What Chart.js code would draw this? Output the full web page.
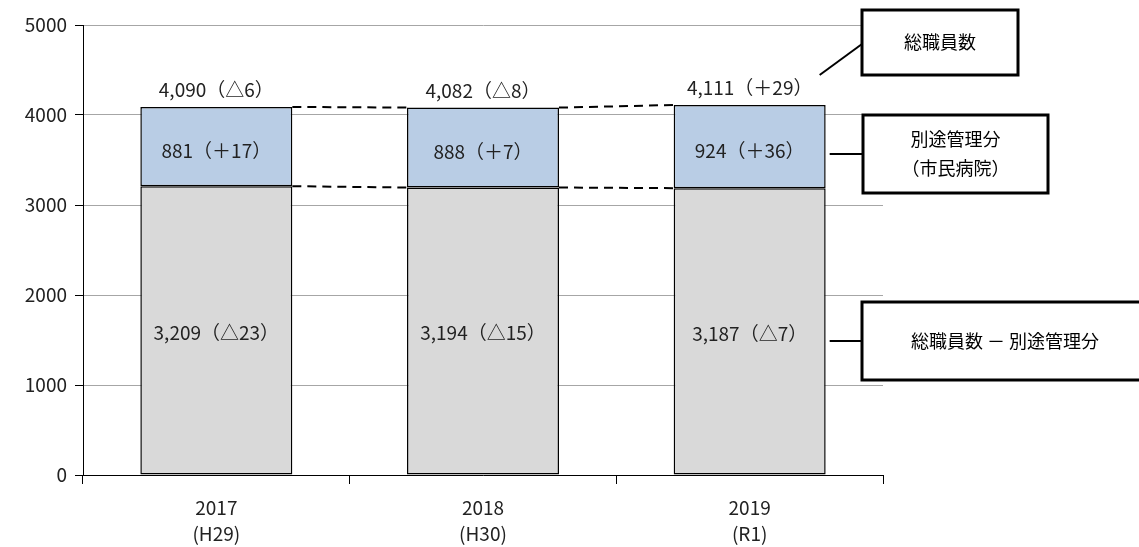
<!DOCTYPE html>
<html lang="ja">
<head>
<meta charset="UTF-8">
<title>総職員数の推移</title>
<script src="https://cdn.jsdelivr.net/npm/chart.js@4"></script>
<style>
  html, body { margin: 0; padding: 0; background: #fff; }
  #wrap { width: 1139px; height: 547px; }
</style>
</head>
<body>
<div id="wrap"><canvas id="chart"></canvas></div>
<script>
const categories = [['2017', '(H29)'], ['2018', '(H30)'], ['2019', '(R1)']];
const otherValues = [3209, 3194, 3187];
const hospitalValues = [881, 888, 924];
const otherLabels = ['3,209（△23）', '3,194（△15）', '3,187（△7）'];
const hospitalLabels = ['881（＋17）', '888（＋7）', '924（＋36）'];
const totalLabels = ['4,090（△6）', '4,082（△8）', '4,111（＋29）'];
const calloutTexts = [['総職員数'], ['別途管理分', '（市民病院）'], ['総職員数 － 別途管理分']];

const FONT = '"Noto Sans CJK JP", "Noto Sans", sans-serif';

// labels, dashed connectors and callout boxes
const overlay = {
  id: 'overlay',
  afterDatasetsDraw(chart) {
    const ctx = chart.ctx;
    const lower = chart.getDatasetMeta(0).data;
    const upper = chart.getDatasetMeta(1).data;

    ctx.save();
    ctx.fillStyle = '#222';
    ctx.font = '19px ' + FONT;
    ctx.textAlign = 'center';
    ctx.textBaseline = 'middle';
    lower.forEach((bar, i) => {
      ctx.fillText(otherLabels[i], bar.x, (bar.y + bar.base) / 2 + 2);
    });
    upper.forEach((bar, i) => {
      ctx.fillText(hospitalLabels[i], bar.x, (bar.y + bar.base) / 2 + 4);
      ctx.fillText(totalLabels[i], bar.x, bar.y - 17);
    });

    // dashed lines between bar tops
    ctx.strokeStyle = '#000';
    ctx.lineWidth = 2;
    ctx.setLineDash([9, 6]);
    for (let i = 0; i < upper.length - 1; i++) {
      [upper, lower].forEach(set => {
        const a = set[i], b = set[i + 1];
        ctx.beginPath();
        ctx.moveTo(a.x + a.width / 2, a.y);
        ctx.lineTo(b.x - b.width / 2, b.y);
        ctx.stroke();
      });
    }
    ctx.setLineDash([]);

    // callouts
    const last = upper.length - 1;
    const right = upper[last].x + upper[last].width / 2;
    const boxes = [
      { x: 862, y: 10, w: 156, h: 65, from: [right - 6, upper[last].y - 30], to: [862, 44] },
      { x: 863, y: 115, w: 185, h: 78, from: [right + 4, 154], to: [863, 154] },
      { x: 862, y: 302, w: 290, h: 78, from: [right + 4, 341], to: [862, 341] }
    ];
    ctx.font = '18px ' + FONT;
    boxes.forEach((b, i) => {
      ctx.lineWidth = 2;
      ctx.beginPath();
      ctx.moveTo(b.from[0], b.from[1]);
      ctx.lineTo(b.to[0], b.to[1]);
      ctx.stroke();
      ctx.fillStyle = '#fff';
      ctx.fillRect(b.x, b.y, b.w, b.h);
      ctx.lineWidth = 3;
      ctx.strokeRect(b.x, b.y, b.w, b.h);
      ctx.fillStyle = '#000';
      const lines = calloutTexts[i];
      const cx = i === 2 ? 1005 : b.x + b.w / 2;
      lines.forEach((t, k) => {
        ctx.fillText(t, cx, b.y + b.h / 2 + (k - (lines.length - 1) / 2) * 29);
      });
    });
    ctx.restore();
  }
};

new Chart(document.getElementById('chart'), {
  type: 'bar',
  data: {
    labels: categories,
    datasets: [
      {
        label: '総職員数 － 別途管理分',
        data: otherValues,
        backgroundColor: '#D9D9D9',
        borderColor: '#000',
        borderWidth: 1.5,
        borderSkipped: false
      },
      {
        label: '別途管理分（市民病院）',
        data: hospitalValues,
        backgroundColor: '#B9CDE5',
        borderColor: '#000',
        borderWidth: 1.5,
        borderSkipped: false
      }
    ]
  },
  options: {
    responsive: true,
    maintainAspectRatio: false,
    animation: false,
    barPercentage: 0.57,
    categoryPercentage: 1,
    layout: { padding: { top: 25, right: 256, left: 0, bottom: 0 } },
    plugins: {
      legend: { display: false },
      tooltip: { enabled: false }
    },
    scales: {
      x: {
        stacked: true,
        grid: { drawOnChartArea: false, tickLength: 9, color: '#000' },
        border: { color: '#000', width: 1 },
        ticks: { color: '#222', font: { family: FONT, size: 19, lineHeight: 1.4 }, padding: 10 },
        afterFit(scale) { scale.height = 72; }
      },
      y: {
        stacked: true,
        min: 0,
        max: 5000,
        ticks: {
          stepSize: 1000,
          color: '#222',
          font: { family: FONT, size: 19 },
          padding: 8,
          callback: v => String(v)
        },
        grid: { color: '#A6A6A6', lineWidth: 1, tickLength: 8, tickColor: '#000' },
        border: { color: '#000', width: 1 },
        afterFit(scale) { scale.width = 83; }
      }
    }
  },
  plugins: [overlay]
});
</script>
</body>
</html>
